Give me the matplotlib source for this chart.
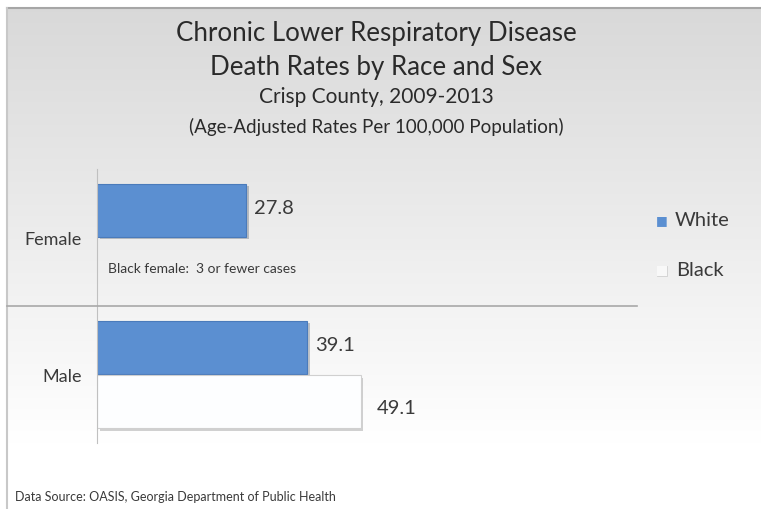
import numpy as np
import matplotlib
matplotlib.use('Agg')
import matplotlib.pyplot as plt
from matplotlib import patheffects as pe

plt.rcParams['font.family'] = ['Lato', 'DejaVu Sans']

groups = ['Male', 'Female']
white_rates = [39.1, 27.8]
black_rates = [49.1, None]   # Black female: 3 or fewer cases
title_lines = ['Chronic Lower Respiratory Disease',
               'Death Rates by Race and Sex',
               'Crisp County, 2009-2013',
               '(Age-Adjusted Rates Per 100,000 Population)']
note = 'Black female:  3 or fewer cases'
source = 'Data Source: OASIS, Georgia Department of Public Health'

W, H = 761, 510
fig = plt.figure(figsize=(W / 100, H / 100), dpi=100)
fig.patch.set_facecolor('white')

# chart area background: grey at the top fading to white
bg = fig.add_axes([7 / W, 0, 1 - 7 / W, (H - 9) / H])
grad = np.linspace(0, 1, 256).reshape(-1, 1)
top = np.array([0.85, 0.85, 0.85])
bot = np.array([1.0, 1.0, 1.0])
img = top + (bot - top) * np.clip(grad * 1.15, 0, 1)
bg.imshow(img[:, None, :].repeat(2, axis=1), aspect='auto', extent=[0, 1, 0, 1])
bg.set_axis_off()
fig.add_artist(plt.Line2D([7 / W, 1], [1 - 9 / H] * 2, color='#a6a6a6', lw=1.5))
fig.add_artist(plt.Line2D([7 / W] * 2, [0, 1 - 9 / H], color='#c8c8c8', lw=1.5))

ax = fig.add_axes([97 / W, 66 / H, 537 / W, 274 / H])
ax.set_facecolor('none')
y = np.arange(len(groups))
h = 0.387
shadow = [pe.SimplePatchShadow(offset=(2, -2), alpha=0.25), pe.Normal()]
txt = '#3a3a3a'

for i, v in enumerate(white_rates):
    ax.barh(y[i] + 0.2, v, height=h, color='#5b8fd1', edgecolor='#4a7bbb',
            lw=0.8, path_effects=shadow)
    ax.text(v + 1.5, y[i] + 0.22, f'{v}', va='center', ha='left',
            fontsize=14.5, color=txt)
for i, v in enumerate(black_rates):
    if v is None:
        continue
    ax.barh(y[i] - 0.2, v, height=h, color='#fdfeff', edgecolor='#d0d0d0',
            lw=0.8, path_effects=shadow)
    ax.text(v + 3, y[i] - 0.24, f'{v}', va='center', ha='left',
            fontsize=14.5, color=txt)

ax.text(2, 0.78, note, fontsize=10, color=txt, va='center')

ax.set_xlim(0, 100)
ax.set_ylim(-0.5, 1.5)
ax.set_yticks(y)
ax.set_yticklabels(groups, fontsize=13, color=txt)
ax.tick_params(axis='y', length=0, pad=11)
ax.set_xticks([])
for s in ['top', 'right', 'bottom']:
    ax.spines[s].set_visible(False)
ax.spines['left'].set_color('#c0c0c0')

# divider between the two groups
fig.add_artist(plt.Line2D([7 / W, 637 / W], [1 - 307 / H] * 2, color='#a8a8a8', lw=1.2))

# titles
ys = [33, 68, 97, 127]
sizes = [18.6, 18.6, 15, 13.5]
for t, yy, fs in zip(title_lines, ys, sizes):
    fig.text(376 / W, 1 - yy / H, t, ha='center', va='center', fontsize=fs, color='#2a2a2a')

# legend
fig.text(662 / W, 1 - 220 / H, '\u25a0', fontsize=9, color='#5b8fd1', ha='center', va='center')
fig.text(675 / W, 1 - 220 / H, 'White', fontsize=14.5, color=txt, va='center')
fig.text(662 / W, 1 - 271 / H, '\u25a0', fontsize=9, color='#f8f8f8', ha='center', va='center',
         path_effects=[pe.withStroke(linewidth=0.6, foreground='#d0d0d0')])
fig.text(676 / W, 1 - 270 / H, 'Black', fontsize=14.5, color=txt, va='center')

fig.text(15 / W, 1 - 497 / H, source, fontsize=9, color=txt, va='center')

fig.savefig('out.png', dpi=100)
